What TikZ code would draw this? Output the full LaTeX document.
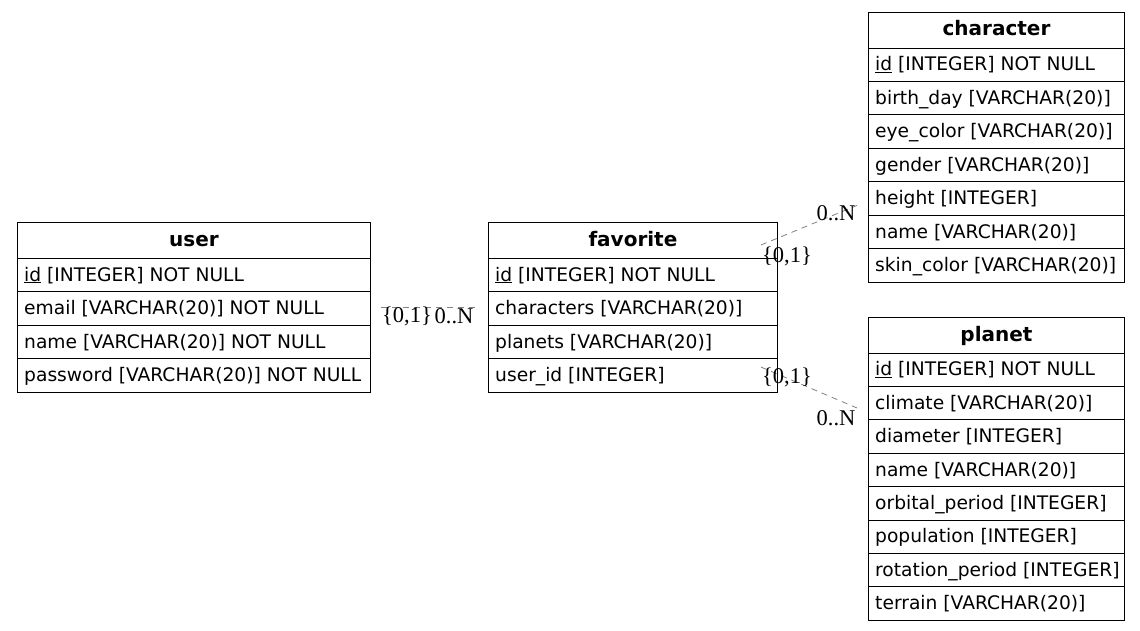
\documentclass[tikz,border=0pt]{standalone}
\usepackage{fontspec}
\setmainfont{DejaVu Sans}
\newfontfamily\lblfont{Liberation Serif}
\usetikzlibrary{calc}
\newcommand\ul[1]{\underline{#1}}
\begin{document}
\begin{tikzpicture}[x=1pt,y=-1pt,
  tbl/.style={draw, line width=0.9pt, inner sep=0pt, anchor=north west},
  hdr/.style={font=\bfseries\fontsize{20}{24}\selectfont, anchor=base, inner sep=0pt},
  fld/.style={font=\fontsize{18.67}{22}\selectfont, anchor=base west, inner sep=0pt},
  sep/.style={line width=0.9pt},
  rel/.style={draw=gray, line width=0.8pt, dash pattern=on 6pt off 5pt},
  card/.style={font=\lblfont\fontsize{22.5}{26}\selectfont, inner sep=0pt}]
\useasboundingbox (0,0) rectangle (1140,631);

% user
\node[tbl, minimum width=353pt, minimum height=170pt] (user) at (17,222) {};
\node[hdr] (user-t) at ($(user.north)+(0,24)$) {user};
\foreach \f [count=\i] in {{\ul{id} [INTEGER] NOT NULL},{email [VARCHAR(20)] NOT NULL},{name [VARCHAR(20)] NOT NULL},{password [VARCHAR(20)] NOT NULL}}{
  \draw[sep] ($(user.north west)+(0,36+\i*33.5-33.5)$) -- ++(353,0);
  \node[fld] (user-\i) at ($(user.north west)+(7,36+\i*33.5-10.5)$) {\f};
}

% favorite
\node[tbl, minimum width=289pt, minimum height=170pt] (fav) at (488,222) {};
\node[hdr] (fav-t) at ($(fav.north)+(0,24)$) {favorite};
\foreach \f [count=\i] in {{\ul{id} [INTEGER] NOT NULL},{characters [VARCHAR(20)]},{planets [VARCHAR(20)]},{user\_id [INTEGER]}}{
  \draw[sep] ($(fav.north west)+(0,36+\i*33.5-33.5)$) -- ++(289,0);
  \node[fld] (fav-\i) at ($(fav.north west)+(7,36+\i*33.5-10.5)$) {\f};
}

% character
\node[tbl, minimum width=256pt, minimum height=270pt] (char) at (868,12) {};
\node[hdr] (char-t) at ($(char.north)+(0,24)$) {character};
\foreach \f [count=\i] in {{\ul{id} [INTEGER] NOT NULL},{birth\_day [VARCHAR(20)]},{eye\_color [VARCHAR(20)]},{gender [VARCHAR(20)]},{height [INTEGER]},{name [VARCHAR(20)]},{skin\_color [VARCHAR(20)]}}{
  \draw[sep] ($(char.north west)+(0,36+\i*33.43-33.43)$) -- ++(256,0);
  \node[fld] (char-\i) at ($(char.north west)+(7,36+\i*33.43-10.5)$) {\f};
}

% planet
\node[tbl, minimum width=256pt, minimum height=303pt] (planet) at (868,317) {};
\node[hdr] (planet-t) at ($(planet.north)+(0,24)$) {planet};
\foreach \f [count=\i] in {{\ul{id} [INTEGER] NOT NULL},{climate [VARCHAR(20)]},{diameter [INTEGER]},{name [VARCHAR(20)]},{orbital\_period [INTEGER]},{population [INTEGER]},{rotation\_period [INTEGER]},{terrain [VARCHAR(20)]}}{
  \draw[sep] ($(planet.north west)+(0,36+\i*33.4-33.4)$) -- ++(256,0);
  \node[fld] (planet-\i) at ($(planet.north west)+(7,36+\i*33.4-10.5)$) {\f};
}

% connectors
\coordinate (uf-a) at ($(user.east)+(10,0)$);
\coordinate (uf-b) at ($(fav.west)+(-11,0)$);
\draw[rel] (uf-a) -- (uf-b);
\node[card] (uf-l1) at (407,316) {\{0,1\}};
\node[card] (uf-l2) at (454,316) {0..N};

\coordinate (fc-a) at ($(fav.north east)+(-17,23)$);
\coordinate (fc-b) at ($(char.west)+(-11,58)$);
\draw[rel] (fc-a) -- (fc-b);
\node[card] (fc-l1) at (787,256) {\{0,1\}};
\node[card] (fc-l2) at (836,213) {0..N};

\coordinate (fp-a) at ($(fav.north east)+(-17,145)$);
\coordinate (fp-b) at ($(planet.north west)+(-11,91)$);
\draw[rel] (fp-a) -- (fp-b);
\node[card] (fp-l1) at (787,377) {\{0,1\}};
\node[card] (fp-l2) at (836,418) {0..N};
\end{tikzpicture}
\end{document}
